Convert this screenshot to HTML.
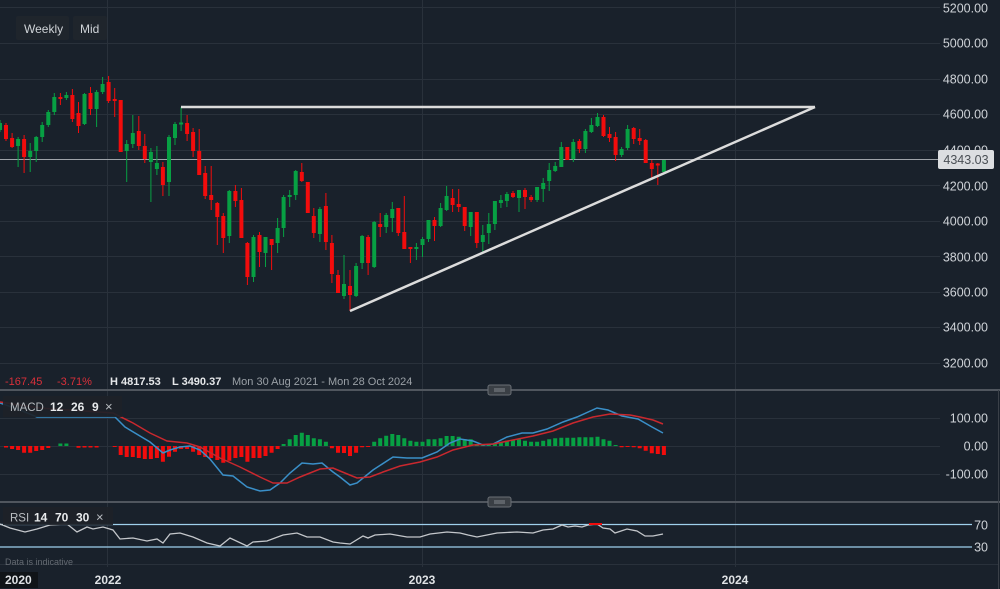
<!DOCTYPE html>
<html><head><meta charset="utf-8"><style>
html,body{margin:0;padding:0;background:#19212b;width:1000px;height:589px;overflow:hidden}
svg{display:block}
text{font-family:"Liberation Sans",Arial,sans-serif}
</style></head><body>
<svg width="1000" height="589" viewBox="0 0 1000 589" xmlns="http://www.w3.org/2000/svg">
<rect width="1000" height="589" fill="#19212b"/>
<!-- grid -->
<g stroke="#29313b" stroke-width="1">
<path d="M0 7.5H940M0 43.5H940M0 79.5H940M0 114.5H940M0 150.5H940M0 185.5H940M0 221.5H940M0 256.5H940M0 292.5H940M0 327.5H940M0 363.5H940"/>
<path d="M107.5 0V567M422.5 0V567M735.5 0V567"/>
<path d="M0 418.5H940M0 446.5H940M0 474.5H940M0 564.5H998"/>
</g>
<!-- current price line -->
<path d="M0 159.5H938" stroke="#9ea3a9" stroke-width="1"/>
<!-- candles green -->
<path fill="none" stroke="#07a043" stroke-width="1" d="M0 120V132M18.1 137V167M30.2 143V172M36.2 136V162M42.2 122V142M48.3 110V127M54.3 93V115M66.4 92V100M84.5 93V125M96.6 90V127M102.6 77V94M126.7 140V182M132.8 115V148M150.9 148V202M156.9 146V175M169 135V196M175 122V145M181.1 107V131M229.3 190V243M253.5 235V282M265.5 237V267M277.6 218V253M283.6 195V237M289.7 190V207M295.7 170V200M319.9 207V242M344 255V299M356.1 263V297M362.1 235V269M374.2 221V268M386.2 213V233M392.3 202V232M416.4 243V260M422.5 237V257M428.5 220V242M440.6 203V227M446.6 186V211M470.7 212V236M482.8 225V253M488.8 213V244M494.9 201V230M500.9 195V208M506.9 192V207M519 190V212M537.1 187V202M543.2 178V202M549.2 163V191M555.2 162V172M561.3 142V167M573.3 139V162M585.4 129V153M591.4 118V133M597.5 113V127M621.6 147V157M627.6 125V150M663.9 160V172"/>
<path fill="none" stroke="#07a043" stroke-width="4" d="M0 123V130M18.1 139V146M30.2 151V157M36.2 137V151M42.2 125V137M48.3 112V125M54.3 97V112M66.4 95V98M84.5 94V124M96.6 92V109M102.6 84V92M126.7 144V151M132.8 133V144M150.9 152V162M156.9 163V169M169 137V182M175 124V138M181.1 122.5V124.5M229.3 191V236M253.5 237V277M265.5 237V253M277.6 228V243M283.6 197V228M289.7 195V197M295.7 171V195M319.9 209V234M344 284V296M356.1 266V296M362.1 236V263M374.2 222V267M386.2 215V227M392.3 209V218M416.4 247V249M422.5 239V245M428.5 220V239M440.6 208V226M446.6 196V210M470.7 212V227M482.8 235V242M488.8 224V233M494.9 201V224M500.9 200V203M506.9 194V201M519 190V198M537.1 187V200M543.2 183V189M549.2 170V181M555.2 166V171M561.3 147V167M573.3 142V159M585.4 131V149M591.4 125V132M597.5 117V126M621.6 149V155M627.6 129V148M663.9 160V172"/>
<!-- candles red -->
<path fill="none" stroke="#f20c0c" stroke-width="1" d="M6 123V141M12.1 133V148M24.1 135V173M60.4 93V105M72.4 89V122M78.5 102V133M90.5 87V115M108.6 76V103M114.7 88V117M120.7 100V152M138.8 116V150M144.8 134V163M162.9 162V196M187.1 115V141M193.1 128V157M199.2 129V175M205.2 166V199M211.2 166V210M217.3 202V245M223.3 213V253M235.4 185V207M241.4 188V238M247.4 242V285M259.5 232V267M271.6 239V270M301.8 163V182M307.8 182V213M313.8 208V238M325.9 193V250M331.9 235V283M338 270V293M350 270V311M368.1 235V275M380.2 213V237M398.3 208V236M404.3 196V249M410.4 247V263M434.5 217V241M452.6 189V212M458.7 189V212M464.7 207V231M476.8 212V248M513 191V198M525 188V209M531.1 195V202M567.3 147V160M579.4 139V153M603.5 115V137M609.5 127V142M615.6 132V161M633.7 127V144M639.7 129V145M645.7 139V163M651.8 160V178M657.8 163V185"/>
<path fill="none" stroke="#f20c0c" stroke-width="4" d="M6 125V139M12.1 138V147M24.1 139V157M60.4 97V99M72.4 95V119M78.5 113V126M90.5 93V109M108.6 82V101M114.7 99V101M120.7 100V152M138.8 131V146M144.8 146V159M162.9 167V185M187.1 123V134M193.1 132V151M199.2 151V175M205.2 173V196M211.2 195V200M217.3 203V217M223.3 216V238M235.4 191V201M241.4 200V238M247.4 243V277M259.5 235V252M271.6 239V245M301.8 172V181M307.8 182V213M313.8 216V233M325.9 206V242M331.9 243V274M338 275V293M350 286V295M368.1 237V263M380.2 224V227M398.3 208V233M404.3 232V249M410.4 247V249M434.5 220V226M452.6 198V205M458.7 204V207M464.7 207V226M476.8 212V243M513 193V197M525 190V197M531.1 197V200M567.3 147V160M579.4 141V149M603.5 117V136M609.5 134V138M615.6 137V155M633.7 128V139M639.7 138V141M645.7 140V163M651.8 163V169M657.8 163.5V165.5"/>
<!-- trend lines -->
<g stroke="#dcdcdc" stroke-width="2.5" fill="none">
<path d="M181 107H815"/>
<path d="M350 311L815 107"/>
</g>
<!-- top-left buttons -->
<rect x="16" y="16" width="53" height="24" rx="2" fill="#1f252c"/>
<rect x="73" y="16" width="34" height="24" rx="2" fill="#1f252c"/>
<text x="24" y="33" font-size="12" fill="#cfd3d7">Weekly</text>
<text x="80" y="33" font-size="12" fill="#cfd3d7">Mid</text>
<!-- y axis labels -->
<g font-size="12.5" fill="#cfd3d8" text-anchor="end">
<text x="988" y="12.5">5200.00</text>
<text x="988" y="47.5">5000.00</text>
<text x="988" y="83.5">4800.00</text>
<text x="988" y="118.5">4600.00</text>
<text x="988" y="154.5">4400.00</text>
<text x="988" y="190.5">4200.00</text>
<text x="988" y="225.5">4000.00</text>
<text x="988" y="261.5">3800.00</text>
<text x="988" y="296.5">3600.00</text>
<text x="988" y="331.5">3400.00</text>
<text x="988" y="367.5">3200.00</text>
</g>
<rect x="938" y="150" width="56" height="19" rx="2" fill="#dcdee1"/>
<text x="966" y="164" font-size="12.5" fill="#4a4f55" text-anchor="middle">4343.03</text>
<!-- info row -->
<g font-size="11">
<text x="5" y="385" fill="#d9303a">-167.45</text>
<text x="57" y="385" fill="#d9303a">-3.71%</text>
<text x="110" y="385" fill="#e6e8ea" font-weight="bold">H 4817.53</text>
<text x="172" y="385" fill="#e6e8ea" font-weight="bold">L 3490.37</text>
<text x="232" y="385" fill="#9aa0a6">Mon 30 Aug 2021 - Mon 28 Oct 2024</text>
</g>
<!-- separators -->
<path d="M0 390H1000M0 502H1000" stroke="#50565e" stroke-width="2"/>
<path d="M998.5 390V589" stroke="#3a4048" stroke-width="1"/>
<g>
<rect x="488" y="385" width="23" height="10" rx="2" fill="#3a3f45" stroke="#6a6f75" stroke-width="1"/>
<path d="M494 389H505M494 391H505" stroke="#9ca0a5" stroke-width="0.8"/>
<rect x="488" y="497" width="23" height="10" rx="2" fill="#3a3f45" stroke="#6a6f75" stroke-width="1"/>
<path d="M494 501H505M494 503H505" stroke="#9ca0a5" stroke-width="0.8"/>
</g>
<!-- MACD histogram -->
<path fill="none" stroke="#f20c0c" stroke-width="4" d="M6 446V447.5M12.1 446V449M18.1 446V450M24.1 446V452.7M30.2 446V452.7M36.2 446V451M42.2 446V450M48.3 446V448M78.5 446V447.7M84.5 446V447.5M90.5 446V447.5M96.6 446V447.5M114.7 446V447M120.7 446V455M126.7 446V457M132.8 446V457M138.8 446V458M144.8 446V459M150.9 446V459M156.9 446V458M162.9 446V461.7M169 446V456.7M175 446V451.7M181.1 446V449M187.1 446V449M193.1 446V451.7M199.2 446V455M205.2 446V457M211.2 446V458M217.3 446V460M223.3 446V462.7M229.3 446V460.7M235.4 446V458M241.4 446V457M247.4 446V461.7M253.5 446V458M259.5 446V458M265.5 446V456M271.6 446V452.7M277.6 446V449M331.9 446V448.3M338 446V452.7M344 446V453M350 446V456M356.1 446V452.7M362.1 446V447.3M368.1 446V447M621.6 446V447.3M627.6 446V447M633.7 446V447.3M639.7 446V448.3M645.7 446V450.7M651.8 446V453.3M657.8 446V454M663.9 446V455"/>
<path fill="none" stroke="#07a043" stroke-width="4" d="M60.4 446V443.5M66.4 446V443.5M283.6 446V444M289.7 446V439.3M295.7 446V435M301.8 446V432.7M307.8 446V435M313.8 446V438.3M319.9 446V439.3M325.9 446V441.7M374.2 446V441.7M380.2 446V438.3M386.2 446V435.7M392.3 446V434M398.3 446V435M404.3 446V438.3M410.4 446V440.7M416.4 446V441.7M422.5 446V441.7M428.5 446V439.3M434.5 446V439.3M440.6 446V438.3M446.6 446V436M452.6 446V436M458.7 446V436.7M464.7 446V439.3M470.7 446V439.3M476.8 446V444M482.8 446V445M488.8 446V445M494.9 446V444M500.9 446V442.7M506.9 446V440.7M513 446V440M519 446V439.3M525 446V440.7M531.1 446V441.7M537.1 446V441.7M543.2 446V440.7M549.2 446V439.3M555.2 446V438.3M561.3 446V437.7M567.3 446V437.7M573.3 446V437.7M579.4 446V437.3M585.4 446V437.3M591.4 446V437.3M597.5 446V436.7M603.5 446V439.3M609.5 446V440.7M615.6 446V445"/>
<!-- MACD lines -->
<polyline fill="none" stroke="#3a8fc8" stroke-width="1.5" points="0,403 20,410 37,417 43,417 115,417 125,427 150,442 163,453 170,450 180,447 190,446 200,450 210,459 223,475 233,476 247,487 260,491 270,490 280,483 290,473 302,463 313,464 322,463 333,472 340,477 350,485 357,483 373,470 393,457 407,458 422,458 437,452 450,443 460,439 473,441 483,445 493,444 507,437 522,433 533,433 547,429 563,422 577,417 597,408 608,410 622,416 638,419 652,427 663,433"/>
<polyline fill="none" stroke="#c9282e" stroke-width="1.5" points="0,402 40,408 113,413 133,423 150,433 167,441 187,443 200,447 220,458 240,467 260,477 273,483 287,483 300,477 320,469 333,468 340,471 357,478 370,477 383,472 400,466 420,462 437,457 453,450 473,445 493,444 513,440 533,436 553,431 573,423 593,417 610,414 630,415 640,417 653,420 663,424"/>
<!-- MACD legend -->
<rect x="3" y="396" width="119" height="21" fill="#1d2228" fill-opacity="0.92"/>
<text x="10" y="411" font-size="11.5" fill="#b8bcc0">MACD</text>
<text x="50" y="411" font-size="12" fill="#e8eaec" font-weight="bold">12</text>
<text x="71" y="411" font-size="12" fill="#e8eaec" font-weight="bold">26</text>
<text x="92" y="411" font-size="12" fill="#e8eaec" font-weight="bold">9</text>
<text x="105" y="411" font-size="13" fill="#b8bcc0">×</text>
<g font-size="12.5" fill="#cfd3d8" text-anchor="end">
<text x="988" y="422.5">100.00</text>
<text x="988" y="450.5">0.00</text>
<text x="988" y="478.5">-100.00</text>
<text x="988" y="529.5">70</text>
<text x="988" y="551.5">30</text>
</g>
<!-- RSI -->
<path d="M0 524.5H972M0 547H972" stroke="#9fd0ec" stroke-width="1.3"/>
<polyline fill="none" stroke="#c4c7cb" stroke-width="1.3" points="0,524 10,528 25,532 37,529 50,525 67,524 77,532 87,527 93,529 103,527 113,530 120,539 133,538 147,541 157,539 163,543 170,534 180,533 193,537 207,543 220,546 230,538 247,546 253,542 267,541 283,535 297,533 307,537 320,537 333,542 340,543 350,544 363,536 368,538 375,535 390,534 407,537 420,537 430,534 447,532 460,533 468,535 477,537 487,535 497,533 517,532 533,533 543,530 553,529 562,525 568,527 575,526 582,527 588,525 597,524 603,528 610,529 615,533 627,529 637,531 645,536 653,536 663,534"/>
<path d="M589 524H602" stroke="#f20c0c" stroke-width="2"/>
<rect x="3" y="507" width="110" height="18" fill="#1d2228" fill-opacity="0.92"/>
<text x="10" y="521.5" font-size="11.5" fill="#b8bcc0">RSI</text>
<text x="34" y="521.5" font-size="12" fill="#e8eaec" font-weight="bold">14</text>
<text x="55" y="521.5" font-size="12" fill="#e8eaec" font-weight="bold">70</text>
<text x="76" y="521.5" font-size="12" fill="#e8eaec" font-weight="bold">30</text>
<text x="96" y="521.5" font-size="13" fill="#b8bcc0">×</text>
<text x="5" y="565" font-size="9" fill="#646a72">Data is indicative</text>
<!-- x axis -->
<rect x="0" y="572" width="38" height="16" fill="#101418"/>
<g font-size="12" font-weight="bold" fill="#dfe2e5">
<text x="5" y="584">2020</text>
<text x="108" y="584" text-anchor="middle">2022</text>
<text x="422" y="584" text-anchor="middle">2023</text>
<text x="735" y="584" text-anchor="middle">2024</text>
</g>
</svg>
</body></html>
